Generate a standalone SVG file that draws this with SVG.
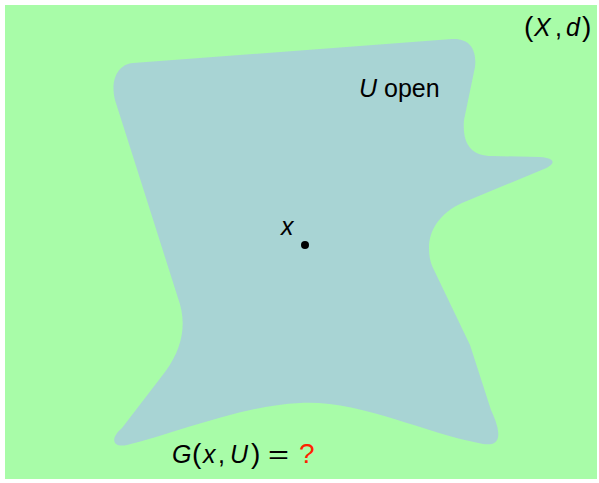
<svg xmlns="http://www.w3.org/2000/svg" width="599" height="483" viewBox="0 0 599 483">
<style>
text{font-family:"Liberation Sans",Arial,sans-serif;font-size:25px;fill:#000}
.i{font-style:italic}
.p{font-size:28px}
.red{fill:#ff2200;font-size:28px}
</style>
<rect width="599" height="483" fill="#ffffff"/>
<g id="space">
<rect x="5" y="5" width="592" height="474" fill="#a8fca8"/>
</g>
<g id="setU">
<path fill="#a8d4d4" d="M133,63 L452,39 C470,38 477,50 475,67 L464,120 C462,145 472,156 492,156 L540,157 C556,158 556,164 544,169 L462,203 C440,213 429,230 429,248 C429,258 431,264 434,270 L470,345 L491,410 C505,440 497,446 483,444 C420,432 360,400 300,403 C240,406 180,432 127,445 C112,448 110,438 122,428 L165,372 C185,345 186,320 178,298 L115,100 C110,80 118,64 133,63 Z"/>
</g>
<g id="point">
<circle cx="305" cy="245" r="4" fill="#000"/>
<text x="281" y="235" class="i">x</text>
</g>
<g id="labels">
<text y="36"><tspan x="524" class="p">(</tspan><tspan x="534" class="i">X</tspan><tspan x="555">,</tspan><tspan x="566" class="i">d</tspan><tspan x="582" class="p">)</tspan></text>
<text y="97"><tspan x="359" class="i">U</tspan><tspan x="384">open</tspan></text>
<text y="463"><tspan x="172" class="i">G</tspan><tspan x="192" class="p">(</tspan><tspan x="203" class="i">x</tspan><tspan x="218">,</tspan><tspan x="230" class="i">U</tspan><tspan x="251" class="p">)</tspan><tspan x="299" class="red">?</tspan></text>
<text x="268" y="463" textLength="21" lengthAdjust="spacingAndGlyphs">=</text>
</g>
</svg>
